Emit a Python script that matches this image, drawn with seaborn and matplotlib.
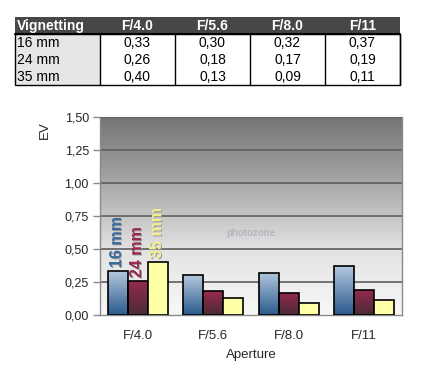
import numpy as np
import pandas as pd
import matplotlib
matplotlib.use("Agg")
import matplotlib.pyplot as plt
import seaborn as sns
from matplotlib.patches import Rectangle
from matplotlib.colors import LinearSegmentedColormap

apertures = ["F/4.0", "F/5.6", "F/8.0", "F/11"]
focals = ["16 mm", "24 mm", "35 mm"]
v16 = [0.33, 0.30, 0.32, 0.37]
v24 = [0.26, 0.18, 0.17, 0.19]
v35 = [0.40, 0.13, 0.09, 0.11]
yticks = [0.0, 0.25, 0.5, 0.75, 1.0, 1.25, 1.5]

series = {"16 mm": v16, "24 mm": v24, "35 mm": v35}
df = pd.DataFrame([
    {"Aperture": a, "Focal": f, "EV": series[f][i]}
    for f in focals for i, a in enumerate(apertures)
])

sns.set_theme(style="white")
plt.rcParams['font.family'] = ['Liberation Sans', 'DejaVu Sans']

W, H = 428, 375
fig = plt.figure(figsize=(W / 100, H / 100), dpi=100)

# ---------- table ----------
tax = fig.add_axes([0, 0, 1, 1], zorder=0)
tax.set_xlim(0, W)
tax.set_ylim(H, 0)
tax.axis("off")
x0, xf, cw = 15, 100, 75
y0, rh = 17, 17
tax.add_patch(Rectangle((x0, y0), xf + 4 * cw - x0, rh, facecolor="#474747", edgecolor="none"))
tax.add_patch(Rectangle((x0, y0 + rh), xf - x0, 3 * rh, facecolor="#e6e6e6", edgecolor="none"))
tax.add_patch(Rectangle((x0, y0 + rh), xf + 4 * cw - x0, 3 * rh, facecolor="none", edgecolor="black", lw=1))
for j in range(5):
    xx = xf + j * cw
    tax.plot([xx, xx], [y0 + rh, y0 + 4 * rh], color="black", lw=1)
tax.plot([x0, xf + 4 * cw], [y0 + rh, y0 + rh], color="black", lw=1.5)
tax.text(x0 + 2, y0 + rh / 2 + 0.5, "Vignetting", color="white", fontsize=10, fontweight="bold", va="center", ha="left")
for j, a in enumerate(apertures):
    tax.text(xf + j * cw + cw / 2, y0 + rh / 2 + 0.5, a, color="white", fontsize=10, fontweight="bold", va="center", ha="center")
for i, f in enumerate(focals):
    yy = y0 + rh * (i + 1) + rh / 2 + 0.5
    tax.text(x0 + 2, yy, f, color="black", fontsize=10, va="center", ha="left")
    for j in range(4):
        tax.text(xf + j * cw + cw / 2, yy, f"{series[f][j]:.2f}".replace(".", ","), color="black", fontsize=10, va="center", ha="center")

# ---------- chart ----------
L, R, T, B = 100, 402, 117, 315
ax = fig.add_axes([L / W, 1 - B / H, (R - L) / W, (B - T) / H], zorder=1)

palette = {"16 mm": "#5a80a8", "24 mm": "#7a2845", "35 mm": "#ffffa8"}
sns.barplot(data=df, x="Aperture", y="EV", hue="Focal", order=apertures, hue_order=focals,
            palette=palette, width=0.79, ax=ax, legend=False, saturation=1,
            edgecolor="black", linewidth=1.2, zorder=3)

# background gradient
bg = LinearSegmentedColormap.from_list("bg", ["#f8f8f8", "#e2e2e2", "#a8a8a8", "#747474"])
grad = np.linspace(0, 1, 256).reshape(-1, 1)
ax.imshow(grad, cmap=bg, aspect="auto", extent=[-0.5, len(apertures) - 0.5, 0, 1.5],
          origin="lower", zorder=0)

ax.set_yticks(yticks)
ax.set_yticklabels([f"{t:.2f}".replace(".", ",") for t in yticks], fontsize=9)
for t in yticks[1:]:
    ax.axhline(t, color="#5e5e5e", lw=1.2, zorder=1)

# gradient fill for bars
cmaps = {
    "16 mm": LinearSegmentedColormap.from_list("c16", ["#2a5a8c", "#b4c8de"]),
    "24 mm": LinearSegmentedColormap.from_list("c24", ["#4a2a36", "#962a4e"]),
}
for f, cont in zip(focals, ax.containers):
    for p in cont.patches:
        if f in cmaps:
            bx, by = p.get_x(), p.get_y()
            bw, bh = p.get_width(), p.get_height()
            im = ax.imshow(grad, cmap=cmaps[f], aspect="auto", origin="lower",
                           extent=[bx, bx + bw, by, by + bh], zorder=2.5)
            im.set_clip_path(p)
            p.set_facecolor("none")

ax.set_xlim(-0.5, len(apertures) - 0.5)
ax.set_ylim(0, 1.5)

# series labels above the first group
label_colors = {"16 mm": "#3c6a9a", "24 mm": "#9a2850", "35 mm": "#f4f090"}
for f, cont in zip(focals, ax.containers):
    p = cont.patches[0]
    cx = p.get_x() + p.get_width() / 2
    top = p.get_height()
    ax.text(cx + 0.012, top + 0.03 - 0.006, f, rotation=90, ha="center", va="bottom",
            fontsize=11.5, fontweight="bold", color="#9a9a9a", zorder=4)
    ax.text(cx, top + 0.03, f, rotation=90, ha="center", va="bottom",
            fontsize=11.5, fontweight="bold", color=label_colors[f], zorder=5)

# faint watermark
ax.text(1.5, 0.62, "photozone", ha="center", va="center", fontsize=7, fontweight="bold",
        color="#9aa4b0", alpha=0.6, zorder=1.5)

for s in ["left", "bottom", "right"]:
    ax.spines[s].set_visible(True)
    ax.spines[s].set_color("#8a8a8a")
    ax.spines[s].set_linewidth(1)
ax.spines["top"].set_visible(False)
ax.tick_params(axis="y", which="both", left=True, length=5, width=1, color="#8a8a8a",
               labelsize=9, pad=3)
ax.tick_params(axis="x", bottom=False, labelsize=9.5, pad=5)
ax.set_xlabel("Aperture", fontsize=9.5, labelpad=5)
ax.set_ylabel("")
fig.text(45 / W, 1 - 130 / H, "EV", rotation=90, ha="center", va="center", fontsize=9.5)

fig.savefig("out.png", dpi=100)
